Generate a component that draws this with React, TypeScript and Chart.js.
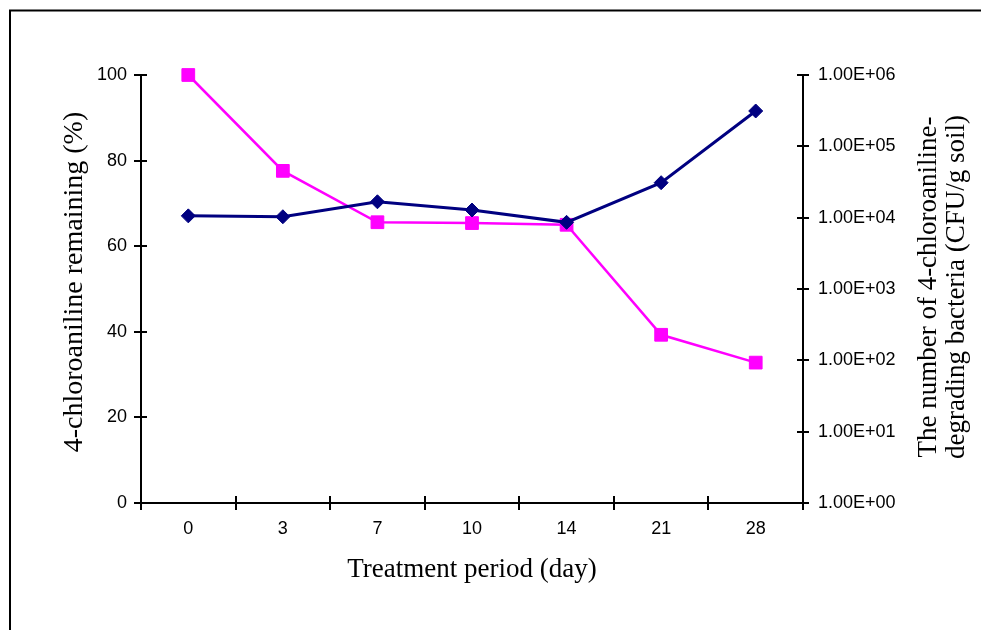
import React, { useEffect, useRef } from "react";
import { Chart, registerables } from "chart.js";

Chart.register(...registerables);

// Sampling days (x categories)
const days = ["0", "3", "7", "10", "14", "21", "28"];
// 4-chloroaniline remaining (%), left axis
const remainingPct = [100, 77.6, 65.6, 65.4, 65.0, 39.3, 32.8];
// Number of 4-chloroaniline-degrading bacteria (CFU/g soil), right log axis
const bacteriaCfu = [1.06e4, 1.03e4, 1.67e4, 1.28e4, 8.6e3, 3.09e4, 3.13e5];
// Axis tick values
const leftTicks = [0, 20, 40, 60, 80, 100];
const rightTicks = [1, 10, 100, 1e3, 1e4, 1e5, 1e6];

const leftTitle = "4-chloroaniline remaining (%)";
const bottomTitle = "Treatment period (day)";
const rightTitle = ["The number of 4-chloroaniline-", "degrading bacteria (CFU/g soil)"];

const W = 981;
const H = 630;
const SANS = "'Liberation Sans', Arial, sans-serif";
const SERIF = "'Liberation Serif', 'Times New Roman', serif";

function sciLabel(v: number): string {
  const [mant, exp] = v.toExponential(2).toUpperCase().split("E");
  const sign = exp.startsWith("-") ? "-" : "+";
  const digits = exp.replace(/[+-]/, "").padStart(2, "0");
  return `${mant}E${sign}${digits}`;
}

// Draws the outer frame, the inner halves of the tick marks and the axis titles
const decorPlugin = {
  id: "decor",
  afterDraw(chart: any) {
    const { ctx, chartArea: a, scales } = chart;
    ctx.save();
    ctx.strokeStyle = "#000";
    ctx.lineWidth = 2;

    // outer frame (runs off the right and bottom edges)
    ctx.beginPath();
    ctx.moveTo(10, H + 5);
    ctx.lineTo(10, 10.5);
    ctx.lineTo(W + 5, 10.5);
    ctx.stroke();

    ctx.beginPath();
    const yl = scales.y;
    yl.ticks.forEach((_: any, i: number) => {
      const p = Math.round(yl.getPixelForTick(i));
      ctx.moveTo(a.left, p);
      ctx.lineTo(a.left + 6, p);
    });
    const yr = scales.y2;
    yr.ticks.forEach((_: any, i: number) => {
      const p = Math.round(yr.getPixelForTick(i));
      ctx.moveTo(a.right, p);
      ctx.lineTo(a.right - 6, p);
    });
    const xs = scales.x;
    for (let i = 0; i <= days.length; i++) {
      const p = Math.round(xs.getPixelForValue(i - 0.5));
      ctx.moveTo(p, a.bottom);
      ctx.lineTo(p, a.bottom - 7);
    }
    ctx.stroke();

    ctx.fillStyle = "#000";
    ctx.textAlign = "center";
    ctx.textBaseline = "middle";
    const midY = (a.top + a.bottom) / 2;

    ctx.font = `27px ${SERIF}`;
    ctx.fillText(bottomTitle, (a.left + a.right) / 2, 570);

    ctx.save();
    ctx.font = `28px ${SERIF}`;
    ctx.translate(75, midY - 7);
    ctx.rotate(-Math.PI / 2);
    ctx.fillText(leftTitle, 0, 0);
    ctx.restore();

    ctx.save();
    ctx.font = `27px ${SERIF}`;
    ctx.translate(929, midY - 2);
    ctx.rotate(-Math.PI / 2);
    rightTitle.forEach((line, i) => ctx.fillText(line, 0, i * 28));
    ctx.restore();

    ctx.restore();
  },
};

export default function App() {
  const ref = useRef<HTMLCanvasElement | null>(null);

  useEffect(() => {
    if (!ref.current) return;
    const chart = new Chart(ref.current, {
      type: "line",
      data: {
        labels: days,
        datasets: [
          {
            label: "Bacteria (CFU/g soil)",
            data: bacteriaCfu,
            yAxisID: "y2",
            borderColor: "#000080",
            backgroundColor: "#000080",
            borderWidth: 3,
            pointStyle: "rectRot",
            pointRadius: 7,
            pointBorderWidth: 1,
            pointBorderColor: "#000080",
            pointBackgroundColor: "#000080",
            tension: 0,
            clip: false,
          },
          {
            label: "4-chloroaniline remaining (%)",
            data: remainingPct,
            yAxisID: "y",
            borderColor: "#FF00FF",
            backgroundColor: "#FF00FF",
            borderWidth: 2.5,
            pointStyle: "rect",
            pointRadius: 9,
            pointBorderWidth: 1,
            pointBorderColor: "#FF00FF",
            pointBackgroundColor: "#FF00FF",
            tension: 0,
            clip: false,
          },
        ],
      },
      options: {
        responsive: false,
        animation: false,
        devicePixelRatio: 1,
        layout: { padding: { top: 75, left: 0, right: 0, bottom: 0 } },
        plugins: {
          legend: { display: false },
          tooltip: { enabled: false },
        },
        scales: {
          x: {
            type: "category",
            offset: true,
            grid: {
              offset: true,
              drawOnChartArea: false,
              drawTicks: true,
              tickLength: 7,
              color: "#000",
              lineWidth: 2,
            },
            border: { display: true, color: "#000", width: 2 },
            ticks: {
              color: "#000",
              font: { family: SANS, size: 18 },
              padding: 8,
              maxRotation: 0,
            },
            afterFit: (s: any) => {
              s.height = H - 503;
            },
          },
          y: {
            type: "linear",
            position: "left",
            min: 0,
            max: 100,
            afterBuildTicks: (s: any) => {
              s.ticks = leftTicks.map((v) => ({ value: v }));
            },
            grid: {
              drawOnChartArea: false,
              drawTicks: true,
              tickLength: 7,
              color: "#000",
              lineWidth: 2,
            },
            border: { display: true, color: "#000", width: 2 },
            ticks: {
              color: "#000",
              font: { family: SANS, size: 18 },
              padding: 7,
            },
            afterFit: (s: any) => {
              s.width = 141;
            },
          },
          y2: {
            type: "logarithmic",
            position: "right",
            min: 1,
            max: 1e6,
            afterBuildTicks: (s: any) => {
              s.ticks = rightTicks.map((v) => ({ value: v }));
            },
            grid: {
              drawOnChartArea: false,
              drawTicks: true,
              tickLength: 6,
              color: "#000",
              lineWidth: 2,
            },
            border: { display: true, color: "#000", width: 2 },
            ticks: {
              color: "#000",
              font: { family: SANS, size: 18 },
              padding: 9,
              callback: (v: any) => sciLabel(Number(v)),
            },
            afterFit: (s: any) => {
              s.width = W - 803;
            },
          },
        },
      },
      plugins: [decorPlugin],
    });
    return () => chart.destroy();
  }, []);

  return (
    <div style={{ position: "fixed", left: 0, top: 0, width: W, height: H, background: "#fff" }}>
      <canvas ref={ref} width={W} height={H} style={{ display: "block", width: W, height: H }} />
    </div>
  );
}
